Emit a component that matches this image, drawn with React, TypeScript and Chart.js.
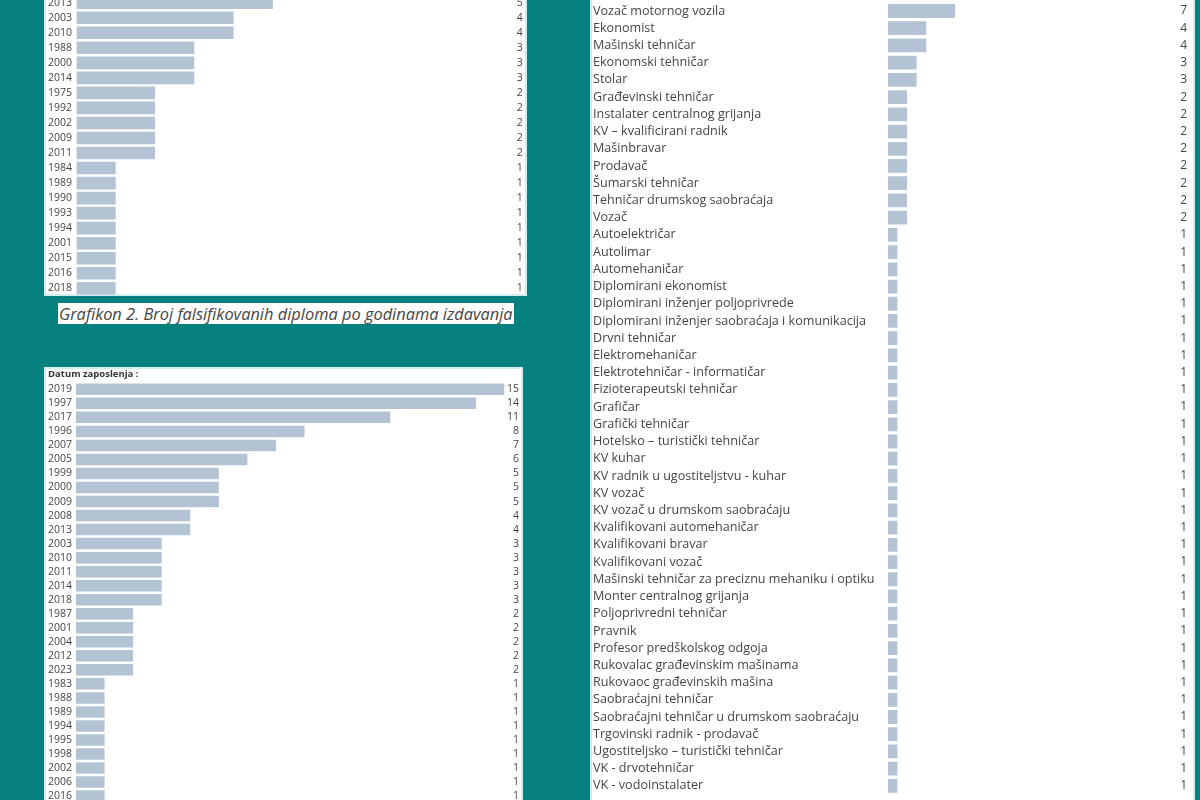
import React, { useEffect, useRef } from "react";
import { Chart, registerables } from "chart.js";

Chart.register(...registerables);

// ---- Data ----
const issueYears = ["2013", "2003", "2010", "1988", "2000", "2014", "1975", "1992", "2002", "2009", "2011", "1984", "1989", "1990", "1993", "1994", "2001", "2015", "2016", "2018"];
const issueCounts = [5, 4, 4, 3, 3, 3, 2, 2, 2, 2, 2, 1, 1, 1, 1, 1, 1, 1, 1, 1];

const employmentTitle = "Datum zaposlenja :";
const employmentYears = ["2019", "1997", "2017", "1996", "2007", "2005", "1999", "2000", "2009", "2008", "2013", "2003", "2010", "2011", "2014", "2018", "1987", "2001", "2004", "2012", "2023", "1983", "1988", "1989", "1994", "1995", "1998", "2002", "2006", "2016"];
const employmentCounts = [15, 14, 11, 8, 7, 6, 5, 5, 5, 4, 4, 3, 3, 3, 3, 3, 2, 2, 2, 2, 2, 1, 1, 1, 1, 1, 1, 1, 1, 1];

const professions = [
  "Vozač motornog vozila",
  "Ekonomist",
  "Mašinski tehničar",
  "Ekonomski tehničar",
  "Stolar",
  "Građevinski tehničar",
  "Instalater centralnog grijanja",
  "KV – kvalificirani radnik",
  "Mašinbravar",
  "Prodavač",
  "Šumarski tehničar",
  "Tehničar drumskog saobraćaja",
  "Vozač",
  "Autoelektričar",
  "Autolimar",
  "Automehaničar",
  "Diplomirani ekonomist",
  "Diplomirani inženjer poljoprivrede",
  "Diplomirani inženjer saobraćaja i komunikacija",
  "Drvni tehničar",
  "Elektromehaničar",
  "Elektrotehničar - informatičar",
  "Fizioterapeutski tehničar",
  "Grafičar",
  "Grafički tehničar",
  "Hotelsko – turistički tehničar",
  "KV kuhar",
  "KV radnik u ugostiteljstvu - kuhar",
  "KV vozač",
  "KV vozač u drumskom saobraćaju",
  "Kvalifikovani automehaničar",
  "Kvalifikovani bravar",
  "Kvalifikovani vozač",
  "Mašinski tehničar za preciznu mehaniku i optiku",
  "Monter centralnog grijanja",
  "Poljoprivredni tehničar",
  "Pravnik",
  "Profesor predškolskog odgoja",
  "Rukovalac građevinskim mašinama",
  "Rukovaoc građevinskih mašina",
  "Saobraćajni tehničar",
  "Saobraćajni tehničar u drumskom saobraćaju",
  "Trgovinski radnik - prodavač",
  "Ugostiteljsko – turistički tehničar",
  "VK - drvotehničar",
  "VK - vodoinstalater",
];
const professionCounts = [7, 4, 4, 3, 3, 2, 2, 2, 2, 2, 2, 2, 2, 1, 1, 1, 1, 1, 1, 1, 1, 1, 1, 1, 1, 1, 1, 1, 1, 1, 1, 1, 1, 1, 1, 1, 1, 1, 1, 1, 1, 1, 1, 1, 1, 1];

const captionText = "Grafikon 2. Broj falsifikovanih diploma po godinama izdavanja";

// ---- Styles ----
const TEAL = "#078080";
const BAR = "#b3c3d3";
const TEXT = "#454545";
const BORDER = "#d2edf0";
const FONT = '"Open Sans", "Noto Sans", sans-serif';

const valuePlugin = {
  id: "vals",
  afterDatasetsDraw(chart: any, _args: any, opts: any) {
    const ctx = chart.ctx;
    const meta = chart.getDatasetMeta(0);
    const data = chart.data.datasets[0].data;
    ctx.save();
    ctx.font = `${opts.size}px ${FONT}`;
    ctx.fillStyle = TEXT;
    ctx.textAlign = "right";
    ctx.textBaseline = "middle";
    meta.data.forEach((el: any, i: number) => {
      ctx.fillText(String(data[i]), chart.width - opts.inset, el.y);
    });
    ctx.restore();
  },
};

type Cfg = {
  labels: string[];
  values: number[];
  left: number;
  top: number;
  width: number;
  height: number;
  pad: { left: number; right: number; top: number; bottom: number };
  yWidth: number;
  xMax: number;
  barPct: number;
  labelSize: number;
  valueSize: number;
  valueInset: number;
  title?: string;
  titleSize?: number;
  titlePad?: { top: number; bottom: number };
};

function BarPanel({ cfg }: { cfg: Cfg }) {
  const ref = useRef<HTMLCanvasElement | null>(null);
  useEffect(() => {
    if (!ref.current) return;
    const chart = new Chart(ref.current, {
      type: "bar",
      data: {
        labels: cfg.labels,
        datasets: [
          {
            data: cfg.values,
            backgroundColor: BAR,
            borderWidth: 0,
            barPercentage: cfg.barPct,
            categoryPercentage: 1,
          },
        ],
      },
      options: {
        indexAxis: "y",
        responsive: false,
        animation: false,
        events: [],
        layout: { padding: cfg.pad },
        plugins: {
          legend: { display: false },
          tooltip: { enabled: false },
          title: cfg.title
            ? {
                display: true,
                text: cfg.title,
                align: "start",
                color: "#333",
                font: { family: FONT, size: cfg.titleSize, weight: "bold", lineHeight: 1.2 },
                padding: cfg.titlePad,
              }
            : { display: false },
          vals: { size: cfg.valueSize, inset: cfg.valueInset },
        } as any,
        scales: {
          x: { display: false, min: 0, max: cfg.xMax },
          y: {
            grid: { display: false },
            border: { display: false },
            ticks: {
              autoSkip: false,
              crossAlign: "far",
              padding: 0,
              color: TEXT,
              font: { family: FONT, size: cfg.labelSize },
            },
            afterFit(scale: any) {
              scale.width = cfg.yWidth;
            },
          },
        },
      },
      plugins: [valuePlugin as any],
    });
    return () => chart.destroy();
  }, []);
  return (
    <canvas
      ref={ref}
      width={cfg.width}
      height={cfg.height}
      style={{ position: "absolute", left: cfg.left, top: cfg.top, width: cfg.width, height: cfg.height }}
    />
  );
}

// chart area: top -4.8, bottom 295.8 (page coords)
const issueCfg: Cfg = {
  labels: issueYears,
  values: issueCounts,
  left: 46,
  top: -14,
  width: 479,
  height: 318,
  pad: { left: 2, right: 16.3, top: 9.2, bottom: 8.2 },
  yWidth: 28.4,
  xMax: 11,
  barPct: 0.84,
  labelSize: 10.5,
  valueSize: 10.5,
  valueInset: 2.3,
};

// chart area: top 381.3, bottom 803.1
const employmentCfg: Cfg = {
  labels: employmentYears,
  values: employmentCounts,
  left: 46,
  top: 368,
  width: 475,
  height: 443,
  pad: { left: 2, right: 16.5, top: 0, bottom: 7.9 },
  yWidth: 28,
  xMax: 15,
  barPct: 0.82,
  labelSize: 10.5,
  valueSize: 10.5,
  valueInset: 2,
  title: employmentTitle,
  titleSize: 9.5,
  titlePad: { top: 1, bottom: 1.9 },
};

// chart area: top 2.4, bottom 794.5
const professionCfg: Cfg = {
  labels: professions,
  values: professionCounts,
  left: 592,
  top: -8,
  width: 601,
  height: 819,
  pad: { left: 1, right: 113.2, top: 10.4, bottom: 16.5 },
  yWidth: 294.8,
  xMax: 20,
  barPct: 0.8,
  labelSize: 12.6,
  valueSize: 12,
  valueInset: 6,
};

const panel = (left: number, top: number, width: number, height: number): React.CSSProperties => ({
  position: "absolute",
  left,
  top,
  width,
  height,
  background: "#ffffff",
  border: `2px solid ${BORDER}`,
  boxSizing: "border-box",
});

export default function App() {
  return (
    <div
      style={{
        position: "fixed",
        left: 0,
        top: 0,
        width: 1200,
        height: 800,
        background: TEAL,
        overflow: "hidden",
      }}
    >
      <div style={panel(44, -10, 483, 306)} />
      <div style={panel(44, 367, 479, 443)} />
      <div style={panel(590, -10, 605, 820)} />
      <div
        style={{
          position: "absolute",
          left: 58,
          top: 303,
          width: 456,
          height: 21,
          background: "#ffffff",
          color: TEXT,
          fontFamily: FONT,
          fontStyle: "italic",
          fontSize: 16.4,
          lineHeight: "21px",
          whiteSpace: "nowrap",
          overflow: "hidden",
          textAlign: "left",
          paddingLeft: 1,
          boxSizing: "border-box",
        }}
      >
        {captionText}
      </div>
      <BarPanel cfg={issueCfg} />
      <BarPanel cfg={employmentCfg} />
      <BarPanel cfg={professionCfg} />
    </div>
  );
}
